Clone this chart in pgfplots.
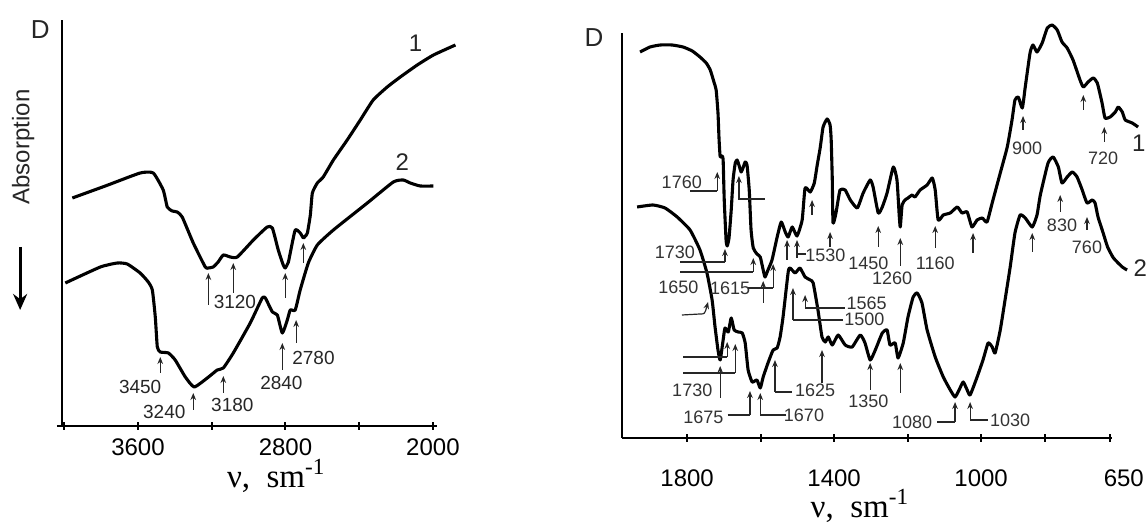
\documentclass[border=0pt]{standalone}
\usepackage{pgfplots}
\pgfplotsset{compat=1.18}
\usepackage{fontspec}
\setmainfont{Liberation Sans}
\newfontfamily\serif{Liberation Serif}
\usetikzlibrary{arrows.meta}
\begin{document}
\begin{tikzpicture}
\useasboundingbox (0,0) rectangle (574pt,262pt);
\pgfplotsset{
 panel/.style={scale only axis, anchor=south west, axis lines*=left, x dir=reverse, ymin=0, clip=false,
   ytick=\empty, tick align=center, major tick length=4pt,
   axis line style={line width=1pt, -}, every tick/.style={black, line width=1pt},
   xticklabel style={font=\fontsize{12}{14}\selectfont, anchor=center}},
 curve/.style={black, line width=1.55pt, smooth, tension=0.3, line join=round, no marks},
}
\tikzset{
 ann/.style={-{Stealth[length=3.5pt,width=2.8pt]}, line width=0.6pt, black!85},
 lab/.style={font=\fontsize{9.5}{10}\selectfont, text=black!85, inner sep=0pt},
 labr/.style={font=\fontsize{9}{10}\selectfont, text=black!80, inner sep=0pt},
 leader/.style={line width=0.6pt, black!85},
 big/.style={font=\fontsize{12}{13}\selectfont, text=black!85},
}
% ---------------- LEFT PANEL ----------------
\begin{axis}[panel, at={(31pt,49pt)}, width=187.5pt, height=203pt,
  xmin=1978, xmax=4012, ymax=406,
  xtick={4000,3600,3200,2800,2400,2000}, xticklabels={,3600,,2800,,2000},
  xticklabel style={yshift=-8.5pt}]
\addplot[curve] coordinates {(3956,228)(3777,240)(3588,253)(3517,253)(3463,236)(3441,219)(3414,215)(3387,214)(3360,209)(3300,183)(3235,159)(3219,158)(3192,159)(3165,164)(3137,171)(3099,169)(3061,169)(2974,186)(2899,199)(2871,198)(2839,176)(2812,161)(2801,158)(2784,164)(2774,173)(2747,196)(2720,193)(2703,188)(2692,190)(2681,193)(2665,211)(2654,233)(2627,243)(2595,249)(2540,266)(2465,286)(2394,306)(2324,326)(2248,339)(2177,349)(2085,361)(1997,371)(1878,381)};
\addplot[curve] coordinates {(3994,143)(3804,159)(3712,163)(3658,162)(3588,153)(3544,144)(3522,136)(3506,109)(3495,79)(3479,74)(3435,73)(3398,66)(3343,49)(3295,39)(3224,48)(3170,56)(3137,58)(3083,73)(2991,103)(2926,128)(2909,128)(2871,114)(2844,111)(2817,93)(2790,106)(2774,116)(2747,116)(2720,136)(2676,163)(2627,181)(2540,196)(2356,223)(2215,244)(2161,246)(2123,243)(2069,240)(1998,240)};
\draw[line width=1pt] (axis cs:4040,0) -- (axis cs:4012,0);
\draw[ann] (axis cs:3218,121) -- (axis cs:3218,153);
\draw[ann] (axis cs:3083,133) -- (axis cs:3083,163);
\node[lab, anchor=west] at (axis cs:3191,124) {3120};
\draw[ann] (axis cs:2801,128) -- (axis cs:2801,153);
\draw[ann] (axis cs:2703,163) -- (axis cs:2703,183);
\draw[ann] (axis cs:3479,53) -- (axis cs:3479,69);
\node[lab] at (axis cs:3588,39) {3450};
\draw[ann] (axis cs:3300,16) -- (axis cs:3300,33);
\node[lab] at (axis cs:3457,14) {3240};
\draw[ann] (axis cs:3137,33) -- (axis cs:3137,50);
\node[lab] at (axis cs:3088,21) {3180};
\draw[ann] (axis cs:2817,56) -- (axis cs:2817,83);
\node[lab] at (axis cs:2822,43) {2840};
\draw[ann] (axis cs:2742,83) -- (axis cs:2742,106);
\node[lab] at (axis cs:2648,68) {2780};
\node[big] at (axis cs:2095,383) {1};
\node[big] at (axis cs:2166,264) {2};
\node[font=\fontsize{13}{14}\selectfont, text=black!85] at (axis cs:4130,396) {D};
\node[rotate=90, font=\fontsize{12}{14}\selectfont, text=black!85] at (axis cs:4222,279) {Absorption};
\draw[-{Stealth[length=8pt,width=7pt]}, line width=1.5pt] (axis cs:4239,179) -- (axis cs:4239,116);
\node[font=\serif\fontsize{16.5}{18}\selectfont] at (axis cs:2850,-50) {ν,\ \ sm\textsuperscript{-1}};
\end{axis}
% ---------------- RIGHT PANEL ----------------
\begin{axis}[panel, at={(310.85pt,43pt)}, width=245.15pt, height=202.5pt,
  xmin=644, xmax=1978, ymax=405,
  xtick={1800,1600,1400,1200,1000,825}, xticklabels={1800,,1400,,1000,},
  extra x ticks={650}, extra x tick labels={650},
  extra x tick style={xticklabel style={xshift=7pt}},
  xticklabel style={yshift=-18pt}]
\addplot[curve] coordinates {(1928,386)(1901,391)(1873,393)(1841,393)(1811,391)(1786,387)(1765,381)(1748,375)(1737,368)(1727,356)(1721,348)(1716,325)(1713,298)(1710,281)(1705,282)(1702,278)(1699,238)(1694,198)(1691,192)(1686,200)(1680,228)(1675,258)(1669,275)(1664,278)(1659,273)(1653,266)(1648,270)(1642,276)(1637,273)(1631,248)(1626,208)(1620,190)(1610,184)(1601,181)(1593,168)(1588,161)(1580,168)(1569,178)(1555,201)(1544,216)(1533,206)(1525,201)(1514,211)(1501,202)(1487,218)(1479,250)(1465,246)(1454,255)(1446,273)(1438,290)(1430,311)(1419,319)(1411,313)(1408,298)(1405,258)(1403,215)(1395,225)(1384,248)(1370,248)(1356,238)(1337,230)(1321,245)(1302,258)(1294,251)(1280,225)(1269,231)(1256,245)(1239,271)(1229,258)(1223,223)(1220,211)(1215,233)(1207,238)(1199,240)(1188,243)(1180,241)(1166,248)(1147,253)(1133,260)(1125,248)(1117,218)(1103,223)(1084,225)(1065,231)(1052,225)(1038,226)(1025,211)(1011,218)(997,220)(984,216)(970,235)(948,265)(929,291)(916,318)(908,338)(899,341)(888,330)(880,351)(867,385)(859,393)(848,386)(834,395)(820,410)(807,413)(793,408)(780,396)(766,390)(750,378)(731,358)(722,351)(709,356)(695,360)(684,355)(671,335)(663,320)(649,321)(635,326)(627,331)(616,326)(608,318)(589,315)(573,311)};
\addplot[curve] coordinates {(1936,231)(1893,233)(1860,230)(1827,221)(1792,208)(1765,188)(1746,165)(1732,138)(1724,111)(1716,88)(1710,78)(1702,98)(1697,110)(1688,106)(1680,120)(1672,108)(1661,106)(1650,105)(1642,95)(1634,68)(1623,56)(1610,58)(1601,50)(1593,61)(1580,75)(1566,88)(1555,90)(1547,101)(1539,121)(1525,166)(1520,170)(1506,165)(1493,170)(1479,161)(1465,158)(1457,155)(1444,128)(1433,101)(1424,96)(1416,101)(1405,93)(1389,103)(1370,93)(1351,91)(1329,103)(1316,95)(1302,78)(1288,88)(1269,105)(1256,108)(1248,93)(1234,95)(1226,80)(1212,95)(1199,121)(1185,141)(1174,145)(1161,135)(1147,108)(1125,81)(1103,61)(1084,48)(1071,41)(1060,48)(1049,56)(1038,48)(1030,43)(1011,61)(995,78)(981,95)(970,91)(962,85)(948,108)(935,138)(921,171)(908,205)(894,223)(880,220)(861,211)(848,223)(839,243)(818,275)(804,281)(790,271)(780,255)(766,261)(752,266)(739,261)(725,248)(712,235)(698,238)(690,235)(682,221)(668,205)(656,191)(640,180)(616,171)(603,168)};
% curve 1 annotations
\draw[leader] (axis cs:1792,247) -- (axis cs:1718,247);
\draw[ann] (axis cs:1718,247) -- (axis cs:1718,266);
\node[labr, anchor=east] at (axis cs:1759,256) {1760};
\draw[ann] (axis cs:1659,238) -- (axis cs:1659,262);
\draw[leader] (axis cs:1659,239) -- (axis cs:1588,239);
\node[labr] at (axis cs:1833,186) {1730};
\draw[leader] (axis cs:1819,176) -- (axis cs:1697,176);
\draw[ann] (axis cs:1697,176) -- (axis cs:1697,189);
\node[labr] at (axis cs:1824,151) {1650};
\draw[leader] (axis cs:1819,166) -- (axis cs:1620,166);
\draw[ann] (axis cs:1620,166) -- (axis cs:1620,180);
\node[labr] at (axis cs:1683,150) {1615};
\draw[leader] (axis cs:1634,150) -- (axis cs:1566,150);
\draw[ann] (axis cs:1593,135) -- (axis cs:1593,157);
\draw[ann] (axis cs:1566,150) -- (axis cs:1566,174);
\draw[ann] (axis cs:1528,178) -- (axis cs:1528,198);
\draw[ann] (axis cs:1501,180) -- (axis cs:1501,198);
\draw[leader] (axis cs:1501,184) -- (axis cs:1476,184);
\node[labr] at (axis cs:1424,183) {1530};
\draw[ann] (axis cs:1460,223) -- (axis cs:1460,238);
\draw[ann] (axis cs:1411,191) -- (axis cs:1411,206);
\draw[ann] (axis cs:1280,191) -- (axis cs:1280,212);
\node[labr] at (axis cs:1307,175) {1450};
\draw[ann] (axis cs:1220,172) -- (axis cs:1220,200);
\node[labr] at (axis cs:1242,160) {1260};
\draw[ann] (axis cs:1125,190) -- (axis cs:1125,212);
\node[labr] at (axis cs:1125,175) {1160};
\draw[ann] (axis cs:1022,185) -- (axis cs:1022,205);
\draw[ann] (axis cs:886,308) -- (axis cs:886,322);
\node[labr] at (axis cs:875,290) {900};
\draw[ann] (axis cs:722,328) -- (axis cs:722,343);
\draw[ann] (axis cs:665,296) -- (axis cs:665,311);
\node[labr] at (axis cs:668,280) {720};
\node[big, anchor=east, inner sep=0.5pt] at (axis cs:549,295) {1};
% curve 2 annotations
\draw[ann] (axis cs:1710,40) -- (axis cs:1710,72);
\node[labr] at (axis cs:1786,48) {1730};
\draw[leader] (axis cs:1811,81) -- (axis cs:1691,81);
\draw[ann] (axis cs:1691,81) -- (axis cs:1691,96);
\draw[leader] (axis cs:1811,65) -- (axis cs:1669,65);
\draw[ann] (axis cs:1669,65) -- (axis cs:1669,94);
\node[labr] at (axis cs:1756,21) {1675};
\draw[leader] (axis cs:1690,23) -- (axis cs:1629,23);
\draw[ann] (axis cs:1629,23) -- (axis cs:1629,47);
\node[labr] at (axis cs:1482,23) {1670};
\draw[leader] (axis cs:1530,23) -- (axis cs:1601,23);
\draw[ann] (axis cs:1601,23) -- (axis cs:1601,45);
\node[labr] at (axis cs:1452,48) {1625};
\draw[leader] (axis cs:1561,46) -- (axis cs:1515,46);
\draw[ann] (axis cs:1561,46) -- (axis cs:1561,78);
\draw[ann] (axis cs:1433,55) -- (axis cs:1433,88);
\draw[ann] (axis cs:1512,118) -- (axis cs:1512,150);
\draw[leader] (axis cs:1512,118) -- (axis cs:1376,118);
\node[labr, anchor=west] at (axis cs:1373,119) {1500};
\draw[ann] (axis cs:1479,130) -- (axis cs:1479,143);
\draw[leader] (axis cs:1479,130) -- (axis cs:1370,130);
\node[labr, anchor=west] at (axis cs:1367,135) {1565};
\draw[ann] (axis cs:1302,48) -- (axis cs:1302,75);
\node[labr] at (axis cs:1307,37) {1350};
\draw[ann] (axis cs:1220,45) -- (axis cs:1220,75);
\node[labr] at (axis cs:1188,16) {1080};
\draw[leader] (axis cs:1120,16) -- (axis cs:1071,16);
\draw[ann] (axis cs:1071,16) -- (axis cs:1071,36);
\draw[ann] (axis cs:1030,18) -- (axis cs:1030,36);
\draw[leader] (axis cs:1030,18) -- (axis cs:981,18);
\node[labr] at (axis cs:921,18) {1030};
\draw[ann] (axis cs:861,186) -- (axis cs:861,205);
\draw[ann] (axis cs:785,226) -- (axis cs:785,243);
\node[labr] at (axis cs:780,213) {830};
\draw[ann] (axis cs:712,208) -- (axis cs:712,221);
\node[labr] at (axis cs:712,191) {760};
\node[big] at (axis cs:567,170) {2};
\draw[leader, -{Stealth[length=3.5pt,width=2.8pt]}] (axis cs:1814,123) -- (axis cs:1765,124) .. controls (axis cs:1752,124) .. (axis cs:1743,136);
\node[font=\fontsize{13}{14}\selectfont, text=black!85] at (axis cs:2053,400) {D};
\node[font=\serif\fontsize{16.5}{18}\selectfont] at (axis cs:1330,-68) {ν,\ \ sm\textsuperscript{-1}};
\end{axis}
\end{tikzpicture}
\end{document}
